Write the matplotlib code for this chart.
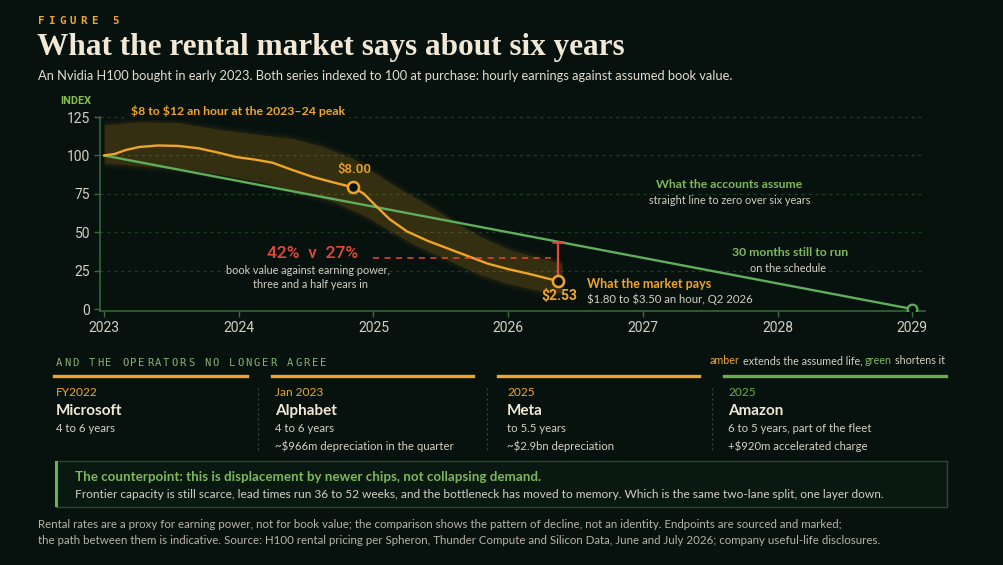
"""plot.py - Figure 5: what the rental market says about six years"""

# === IMPORTS ===
import matplotlib
matplotlib.use("Agg")
import matplotlib.pyplot as plt
from matplotlib.patches import Rectangle
import numpy as np

# === DATA ===
# Rental index (hourly earnings, 100 = purchase in early 2023)
RENT_YEARS = [2023.00, 2023.08, 2023.16, 2023.26, 2023.40, 2023.55, 2023.70, 2023.85,
              2023.98, 2024.12, 2024.25, 2024.40, 2024.55, 2024.70, 2024.85, 2024.93,
              2025.02, 2025.12, 2025.25, 2025.40, 2025.55, 2025.70, 2025.85, 2026.00,
              2026.15, 2026.37]
RENT_INDEX = [100.0, 101.0, 103.5, 105.5, 106.5, 106.2, 104.7, 101.8,
              99.0, 97.3, 95.3, 90.5, 86.0, 82.5, 79.2, 75.0,
              67.0, 58.5, 50.5, 44.5, 39.5, 34.5, 29.5, 26.0,
              23.0, 18.2]

# $8 to $12 an hour range around the path
BAND_HIGH_YEARS = [2023.00, 2023.26, 2023.55, 2023.85, 2024.12, 2024.40, 2024.62, 2024.85,
                   2025.02, 2025.20, 2025.40, 2025.60, 2025.80, 2026.00, 2026.20, 2026.40]
BAND_HIGH = [120, 122, 121.5, 117, 114, 111, 106, 98,
             88, 78, 68, 57, 47, 39, 34, 30]
BAND_LOW_YEARS = [2023.00, 2023.30, 2023.60, 2023.90, 2024.20, 2024.45, 2024.70, 2024.95,
                  2025.10, 2025.30, 2025.55, 2025.80, 2026.00, 2026.20, 2026.40]
BAND_LOW = [95, 93, 91, 87, 82, 76, 70, 60,
            52, 42, 32, 22, 16.5, 12.5, 10]

# Book value: straight line to zero over six years
BOOK_YEARS = [2023, 2029]
BOOK_INDEX = [100, 0]

PEAK_MARK = 14          # index of the $8.00 point in RENT_*
PEAK_LABEL = "$8.00"
END_LABEL = "$2.53"
GAP_REF = 33.5          # level of the dashed red reference
GAP_START = 2025.0

X_TICKS = [2023, 2024, 2025, 2026, 2027, 2028, 2029]
Y_TICKS = [0, 25, 50, 75, 100, 125]

OPERATOR_DATES = ["FY2022", "Jan 2023", "2025", "2025"]
OPERATOR_NAMES = ["Microsoft", "Alphabet", "Meta", "Amazon"]
OPERATOR_LINE1 = ["4 to 6 years", "4 to 6 years", "to 5.5 years", "6 to 5 years, part of the fleet"]
OPERATOR_LINE2 = ["", "~$966m depreciation in the quarter", "~$2.9bn depreciation",
                  "+$920m accelerated charge"]
OPERATOR_SIDE = ["amber", "amber", "amber", "green"]

# === STYLE ===
W, H = 1004, 565
BG = "#07120e"
AMBER = "#f0a526"
GREEN = "#5fae5b"
GREEN_TXT = "#7db85a"
RED = "#e6493b"
CREAM = "#f1e9d6"
GREY = "#d3cfc4"
DIM = "#b7b4aa"
SPINE = "#3c6b3f"
GRID = "#1f3c25"

SANS = "Lato"
SERIF = "Liberation Serif"
MONO = "DejaVu Sans Mono"
NUM = "Roboto"

plt.rcParams["font.family"] = [SANS, "DejaVu Sans"]


# === HELPERS ===

def put(fig, x, y, s, **kw):
    """Place text at pixel coordinates (origin top-left), vertically centred."""
    kw.setdefault("va", "center")
    kw.setdefault("parse_math", False)
    return fig.text(x / W, 1 - y / H, s, **kw)


def spaced(fig, x, y, s, step, **kw):
    """Letter-spaced caps, one glyph at a time."""
    for i, ch in enumerate(s):
        if ch != " ":
            put(fig, x + i * step, y, ch, ha="left", **kw)


def chain(fig, x, y, parts, **kw):
    """Draw coloured words one after another on one line."""
    renderer = fig.canvas.get_renderer()
    probe = put(fig, 0, -50, "a a", **kw)
    probe2 = put(fig, 0, -50, "aa", **kw)
    gap = probe.get_window_extent(renderer).width - probe2.get_window_extent(renderer).width
    probe.remove()
    probe2.remove()
    for s, color in parts:
        t = put(fig, x, y, s, color=color, ha="left", **kw)
        x += t.get_window_extent(renderer).width + gap


# === FIGURE ===

def draw_header(fig):
    spaced(fig, 38, 21, "FIGURE 5", 10.6, color=AMBER, fontsize=7.8, family=MONO,
           fontweight="bold")
    put(fig, 37, 48, "What the rental market says about six years", color=CREAM,
        fontsize=22.5, family=SERIF, fontweight="bold")
    put(fig, 38, 76, "An Nvidia H100 bought in early 2023. Both series indexed to 100 at purchase: "
        "hourly earnings against assumed book value.", color="#e2ddd0", fontsize=9.3)


def draw_chart(fig):
    ax = fig.add_axes([100 / W, 1 - 311 / H, 825 / W, 199 / H])
    ax.set_facecolor("none")
    ax.set_xlim(2022.97, 2029.095)
    ax.set_ylim(-1.3, 128.3)

    # gridlines
    for v in Y_TICKS[1:]:
        ax.axhline(v, color=GRID, lw=0.9, ls=(0, (2.5, 3)), zorder=0)

    # soft band
    grid_x = np.linspace(RENT_YEARS[0], BAND_HIGH_YEARS[-1], 300)
    hi = np.interp(grid_x, BAND_HIGH_YEARS, BAND_HIGH)
    lo = np.interp(grid_x, BAND_LOW_YEARS, BAND_LOW)
    for pad, alpha in [(3.0, 0.03), (1.5, 0.04), (0.0, 0.16)]:
        ax.fill_between(grid_x, lo - pad, hi + pad, color="#dc9c1e", alpha=alpha, lw=0, zorder=1)

    # series
    ax.plot(BOOK_YEARS, BOOK_INDEX, color=GREEN, lw=1.7, zorder=3, solid_capstyle="round")
    ax.plot(RENT_YEARS, RENT_INDEX, color=AMBER, lw=1.7, zorder=4, solid_capstyle="round")

    # gap between the two at the end of the rental series
    end_x, end_y = RENT_YEARS[-1], RENT_INDEX[-1]
    book_end = np.interp(end_x, BOOK_YEARS, BOOK_INDEX)
    ax.vlines(end_x, end_y, book_end, color=RED, lw=1.6, zorder=5)
    ax.plot([end_x], [book_end], marker="_", ms=9, mew=1.8, color=RED, zorder=5)
    ax.hlines(GAP_REF, GAP_START, end_x - 0.05, color=RED, lw=1.1, ls=(0, (4, 3.5)), zorder=5)

    # markers
    ax.plot([RENT_YEARS[PEAK_MARK], end_x], [RENT_INDEX[PEAK_MARK], end_y], "o", ms=8,
            mfc=BG, mec=AMBER, mew=1.8, zorder=6)
    ax.plot([BOOK_YEARS[-1]], [BOOK_INDEX[-1]], "o", ms=7, mfc=BG, mec=GREEN, mew=1.6, zorder=6)

    # axes
    for side in ["top", "right"]:
        ax.spines[side].set_visible(False)
    ax.spines["left"].set_color(SPINE)
    ax.spines["bottom"].set_color(SPINE)
    ax.spines["left"].set_bounds(-1.3, 125)
    ax.spines["left"].set_linewidth(1.1)
    ax.spines["bottom"].set_linewidth(1.1)
    ax.set_xticks(X_TICKS)
    ax.set_yticks(Y_TICKS)
    ax.tick_params(axis="both", colors=SPINE, length=4, width=1, labelcolor=GREY, labelsize=10)
    ax.tick_params(axis="y", pad=3)
    ax.tick_params(axis="x", pad=3)
    for lab in ax.get_xticklabels() + ax.get_yticklabels():
        lab.set_family(NUM)

    # labels in the chart
    put(fig, 60, 101, "INDEX", color="#86bd4f", fontsize=7.8, fontweight="bold", family=NUM)
    put(fig, 131, 111, "$8 to $12 an hour at the 2023\u201324 peak", color=AMBER, fontsize=8.8,
        fontweight="bold", bbox=dict(facecolor=BG, edgecolor="none", pad=2.5))
    put(fig, 354, 170, PEAK_LABEL, color=AMBER, fontsize=9.5, ha="center", family=NUM,
        fontweight="medium")
    put(fig, 559, 296, END_LABEL, color=AMBER, fontsize=10, ha="center", family=NUM,
        fontweight="bold")
    put(fig, 313, 253, "42%  v  27%", color=RED, fontsize=12.5, ha="center", family=NUM,
        fontweight="medium")
    put(fig, 308, 270, "book value against earning power,", color=GREY, fontsize=7.8, ha="center")
    put(fig, 311, 284, "three and a half years in", color=GREY, fontsize=7.8, ha="center")
    put(fig, 587, 284, "What the market pays", color=AMBER, fontsize=9, fontweight="bold")
    put(fig, 587, 299, "$1.80 to $3.50 an hour, Q2 2026", color=GREY, fontsize=8.2)
    put(fig, 729, 184, "What the accounts assume", color=GREEN_TXT, fontsize=8.8,
        fontweight="bold", ha="center")
    put(fig, 730, 200, "straight line to zero over six years", color=GREY, fontsize=7.8,
        ha="center")
    put(fig, 790, 253, "30 months still to run", color=GREEN_TXT, fontsize=8.8,
        fontweight="bold", ha="center")
    put(fig, 788, 269, "on the schedule", color=GREY, fontsize=7.8, ha="center")


def draw_operators(fig):
    spaced(fig, 56, 363, "AND THE OPERATORS NO LONGER AGREE", 8.25, color="#86b075",
           fontsize=7.6, family=MONO)
    chain(fig, 710, 361, [("amber", AMBER), ("extends the assumed life,", GREY),
                          ("green", GREEN_TXT), ("shortens it", GREY)], fontsize=7.75)

    bars = [(54, 247), (272, 473), (498, 699), (724, 946)]
    text_x = [56, 275, 507, 728]
    seps = [258, 487, 712]
    for (x0, x1), tx, date, name, l1, l2, side in zip(
            bars, text_x, OPERATOR_DATES, OPERATOR_NAMES, OPERATOR_LINE1, OPERATOR_LINE2,
            OPERATOR_SIDE):
        color = AMBER if side == "amber" else "#6aae4a"
        fig.add_artist(plt.Line2D([x0 / W, x1 / W], [1 - 376 / H] * 2, color=color, lw=2.4))
        put(fig, tx, 393, date, color=color, fontsize=8.6)
        put(fig, tx, 411, name, color=CREAM, fontsize=11, fontweight="bold")
        put(fig, tx, 429, l1, color=GREY, fontsize=8.2)
        if l2:
            put(fig, tx, 446, l2, color=GREY, fontsize=8.2)
    for sx in seps:
        fig.add_artist(plt.Line2D([sx / W] * 2, [1 - 388 / H, 1 - 450 / H], color="#2f5231",
                                  lw=0.9, ls=(0, (1.5, 2.5))))


def draw_counterpoint(fig):
    box = Rectangle((56 / W, 1 - 507 / H), (947 - 56) / W, 46 / H, transform=fig.transFigure,
                    facecolor="#0a1812", edgecolor="#2b4a2c", lw=1.0)
    fig.add_artist(box)
    bar = Rectangle((55 / W, 1 - 507 / H), 3.5 / W, 46 / H, transform=fig.transFigure,
                    facecolor="#6cb34a", edgecolor="none")
    fig.add_artist(bar)
    put(fig, 75, 477, "The counterpoint: this is displacement by newer chips, not collapsing demand.",
        color=GREEN_TXT, fontsize=9.6, fontweight="bold")
    put(fig, 75, 494, "Frontier capacity is still scarce, lead times run 36 to 52 weeks, and the "
        "bottleneck has moved to memory. Which is the same two-lane split, one layer down.",
        color=GREY, fontsize=8.55)

    put(fig, 38, 525, "Rental rates are a proxy for earning power, not for book value; the comparison "
        "shows the pattern of decline, not an identity. Endpoints are sourced and marked;",
        color=DIM, fontsize=8.3)
    put(fig, 38, 541, "the path between them is indicative. Source: H100 rental pricing per Spheron, "
        "Thunder Compute and Silicon Data, June and July 2026; company useful-life disclosures.",
        color=DIM, fontsize=8.3)


# === MAIN ===

def main() -> None:
    fig = plt.figure(figsize=(W / 100, H / 100), dpi=100, facecolor=BG)
    draw_header(fig)
    draw_chart(fig)
    draw_operators(fig)
    draw_counterpoint(fig)
    fig.savefig("out.png", dpi=100, facecolor=BG)
    plt.close(fig)


if __name__ == "__main__":
    main()
